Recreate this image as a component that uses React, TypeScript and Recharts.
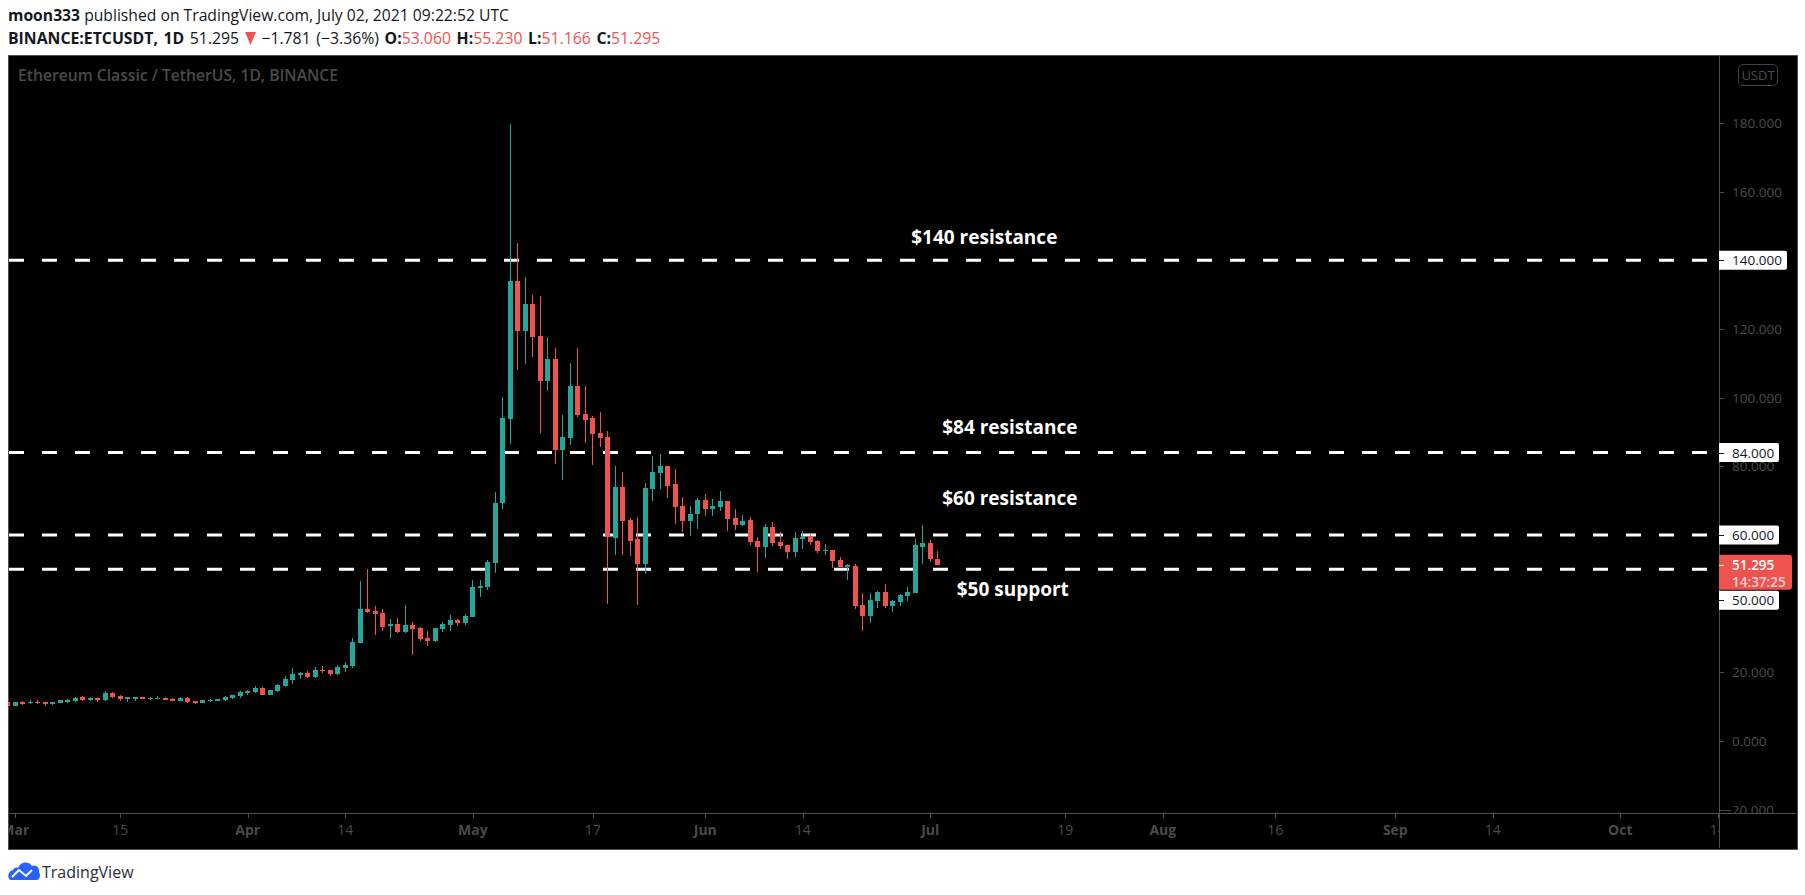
import { ComposedChart, Bar, XAxis, YAxis, ReferenceLine, ReferenceDot } from "recharts";

// daily candles, first entry is the day before Mar 1 (cut off by the pane edge)
const opens = [
  11.36, 10.2, 11.46, 10.97, 11.46, 11.36, 10.87, 11.16, 11.36, 11.65, 12.72, 12.04, 12.52, 12.04, 13.98, 13.11,
  12.23, 12.23, 12.72, 12.33, 12.33, 12.52, 12.23, 11.75, 12.52, 11.55, 11.07, 11.65, 11.65, 11.94, 12.43, 13.11,
  13.98, 14.27, 15.44, 13.4, 14.56, 16.02, 17.77, 19.2, 19.8, 18.64, 20.68, 20.68, 19.5, 21.26, 21.85, 28.55,
  38.45, 37.87, 37.28, 33.5, 34.08, 31.75, 33.79, 32.91, 30.0, 29.13, 32.62, 33.79, 35.25, 34.37, 36.12, 44.56,
  44.85, 51.84, 69.3, 93.8, 134.0, 119.4, 127.3, 117.95, 104.86, 111.27, 84.76, 88.25, 103.4, 95.24, 94.08, 89.7,
  88.54, 59.12, 73.98, 64.36, 58.83, 51.55, 73.4, 78.06, 80.1, 74.85, 68.44, 64.07, 66.1, 70.2, 67.57, 68.15,
  69.9, 64.95, 62.9, 64.36, 58.25, 56.5, 62.33, 57.96, 57.1, 55.05, 58.84, 59.42, 58.25, 55.34, 55.63, 52.72,
  50.68, 50.97, 39.6, 36.4, 40.77, 43.4, 39.3, 40.48, 42.2, 43.1, 56.5, 57.67, 53.06,
];
const highs = [
  11.4, 11.4, 11.65, 11.94, 11.94, 11.4, 11.36, 11.9, 12.23, 12.82, 13.11, 12.82, 12.82, 14.56, 14.27, 13.4,
  12.82, 12.82, 12.9, 12.9, 13.1, 12.82, 12.43, 12.82, 12.82, 11.65, 11.9, 12.23, 12.3, 13.11, 13.4, 14.56,
  14.86, 16.02, 15.73, 14.9, 16.6, 18.93, 21.26, 20.0, 20.39, 21.56, 21.85, 20.7, 22.14, 23.0, 30.0, 46.6,
  50.1, 39.3, 38.45, 35.54, 35.83, 39.6, 34.66, 33.2, 32.04, 33.0, 34.66, 36.7, 35.54, 37.0, 46.9, 46.9,
  52.7, 72.5, 100.2, 179.7, 145.0, 135.1, 129.9, 129.6, 117.7, 114.5, 94.95, 110.1, 114.5, 103.4, 94.66, 95.8,
  90.3, 80.1, 78.35, 64.95, 65.24, 75.14, 83.0, 83.6, 80.2, 79.2, 71.07, 68.44, 70.8, 71.94, 70.48, 72.8,
  69.95, 67.57, 65.8, 65.24, 59.4, 63.2, 63.8, 60.87, 57.2, 60.87, 61.16, 60.3, 58.5, 57.4, 55.7, 53.6,
  51.55, 51.55, 43.1, 43.1, 43.7, 45.7, 41.07, 42.8, 44.85, 58.83, 62.9, 58.54, 55.23,
];
const lows = [
  10.2, 10.2, 10.49, 10.78, 10.78, 10.3, 10.58, 11.1, 11.16, 11.36, 11.75, 11.65, 11.36, 11.75, 12.52, 11.65,
  11.36, 11.65, 12.13, 11.94, 12.1, 11.94, 11.65, 11.65, 11.07, 10.78, 11.0, 11.36, 11.6, 11.65, 12.13, 12.52,
  13.4, 13.98, 13.3, 13.3, 14.27, 15.73, 16.6, 18.06, 18.35, 18.35, 19.8, 18.93, 19.2, 20.1, 21.26, 28.5,
  37.3, 30.9, 32.0, 30.0, 31.46, 31.46, 25.05, 29.13, 27.67, 28.84, 31.75, 32.04, 33.5, 33.79, 36.1, 41.9,
  44.0, 48.9, 67.57, 86.5, 108.06, 109.8, 111.85, 89.7, 101.94, 80.7, 76.0, 86.2, 94.4, 86.8, 80.4, 85.6,
  39.9, 54.2, 54.2, 53.9, 39.6, 48.64, 69.9, 73.4, 70.8, 63.2, 60.87, 59.7, 61.74, 65.5, 65.5, 67.0,
  61.16, 61.45, 62.6, 57.08, 49.2, 53.3, 56.8, 55.9, 53.0, 53.6, 55.9, 57.1, 54.76, 54.17, 50.39, 50.6,
  46.9, 38.44, 32.0, 34.36, 38.7, 38.7, 37.57, 39.3, 40.77, 43.0, 51.55, 52.1, 51.166,
];
const closes = [
  10.2, 11.36, 10.87, 11.36, 11.16, 10.78, 11.26, 11.84, 11.94, 12.52, 12.04, 12.52, 11.84, 13.88, 12.82, 12.23,
  12.72, 12.72, 12.23, 12.52, 12.52, 12.04, 11.75, 12.52, 11.36, 11.07, 11.84, 11.94, 12.23, 12.82, 13.3, 14.27,
  14.56, 15.44, 13.4, 14.86, 16.31, 18.06, 19.5, 19.9, 18.64, 20.68, 20.39, 19.5, 21.56, 22.14, 28.84, 38.45,
  37.58, 37.0, 33.2, 34.08, 31.75, 33.79, 32.62, 29.71, 29.13, 32.91, 34.08, 35.25, 34.37, 36.41, 44.85, 45.14,
  52.13, 69.3, 94.08, 134.0, 119.4, 127.3, 117.7, 104.86, 111.27, 84.76, 88.54, 103.4, 94.95, 93.5, 89.4, 88.25,
  59.4, 73.98, 64.07, 58.25, 51.55, 73.69, 78.35, 80.1, 74.27, 68.15, 64.07, 66.1, 70.2, 67.57, 68.44, 69.9,
  64.66, 62.9, 64.07, 57.96, 56.5, 62.33, 57.67, 56.8, 55.05, 59.13, 59.42, 57.96, 55.34, 55.63, 52.43, 50.68,
  51.26, 39.3, 36.4, 41.07, 43.4, 39.3, 40.77, 42.5, 43.4, 57.1, 57.67, 53.0, 51.295,
];

const dayTicks = [0, 14, 31, 44, 61, 77, 92, 105, 122, 140, 153, 168, 184, 197, 214, 227];
const dayLabels = ["Mar", "15", "Apr", "14", "May", "17", "Jun", "14", "Jul", "19", "Aug", "16", "Sep", "14", "Oct", "14"];

const priceTicks = [-20, 0, 20, 80, 100, 120, 160, 180, 140, 84, 60, 50, 51.295];
const levels = [140, 84, 60, 50];
const annotations = [
  { day: 129.2, price: 146.7, text: "$140 resistance" },
  { day: 132.6, price: 91.4, text: "$84 resistance" },
  { day: 132.6, price: 70.6, text: "$60 resistance" },
  { day: 133, price: 44.2, text: "$50 support" },
];

const table = opens.map((open, i) => ({
  day: i - 1,
  open,
  high: highs[i],
  low: lows[i],
  close: closes[i],
  range: [lows[i], highs[i]],
}));

const UP = "#26a69a";
const DOWN = "#ef5350";
const DIM = "#4a4a4a";
const FRAME = "#505050";
const FONT = "'Open Sans', sans-serif";
const PLOT_RIGHT = 1719;

function Candle(props: any) {
  const { x, y, height, payload } = props;
  const k = height / (payload.high - payload.low);
  const top = y + (payload.high - Math.max(payload.open, payload.close)) * k;
  const bodyH = Math.max(Math.abs(payload.open - payload.close) * k, 1);
  const left = Math.round(x);
  const color = payload.close >= payload.open ? UP : DOWN;
  return (
    <g shapeRendering="crispEdges">
      <rect x={left + 2} y={y} width={1} height={height} fill={color} />
      <rect x={left} y={top} width={5} height={bodyH} fill={color} />
    </g>
  );
}

function DayTick(props: any) {
  const { x, payload } = props;
  const label = dayLabels[dayTicks.indexOf(payload.value)];
  const isMonth = label.length > 2;
  return (
    <g clipPath="url(#time-clip)">
      <rect x={Math.round(x)} y={813} width={1} height={5} fill={FRAME} />
      <text x={x} y={835} textAnchor="middle" fill={DIM} fontSize={14} fontFamily={FONT} fontWeight={isMonth ? 700 : 400}>
        {label}
      </text>
    </g>
  );
}

function PriceTick(props: any) {
  const { y, payload } = props;
  const value = payload.value as number;
  const textX = PLOT_RIGHT + 13;
  if (value === 51.295) {
    return (
      <g>
        <path d={`M${PLOT_RIGHT} ${y - 10}H1789a3 3 0 0 1 3 3V${y + 22}a3 3 0 0 1 -3 3H${PLOT_RIGHT}Z`} fill={DOWN} />
        <rect x={PLOT_RIGHT} y={y} width={5} height={1} fill="#fff" />
        <text x={textX} y={y + 5} fill="#fff" fontSize={13.5} fontWeight={600} fontFamily={FONT}>51.295</text>
        <text x={textX} y={y + 22} fill="#fbd0ce" fontSize={13.5} fontWeight={600} fontFamily={FONT}>14:37:25</text>
      </g>
    );
  }
  if (levels.includes(value)) {
    // the 50 label gets pushed down by the current price label
    const py = value === 50 ? y + 31 : y;
    const right = value === 140 ? 1787 : 1779;
    return (
      <g>
        <path d={`M${PLOT_RIGHT} ${py - 9.5}H${right - 2}a2 2 0 0 1 2 2V${py + 7.5}a2 2 0 0 1 -2 2H${PLOT_RIGHT}Z`} fill="#fff" />
        <rect x={PLOT_RIGHT} y={Math.round(py)} width={5} height={1} fill="#131722" />
        <text x={textX} y={py + 5} fill="#131722" fontSize={13.5} fontFamily={FONT}>{value.toFixed(3)}</text>
      </g>
    );
  }
  const label = value < 0 ? `\u2212${Math.abs(value).toFixed(3)}` : value.toFixed(3);
  return (
    <g clipPath="url(#price-clip)">
      <rect x={PLOT_RIGHT} y={Math.round(y)} width={5} height={1} fill={FRAME} />
      <text x={value < 0 ? textX - 8 : textX} y={y + 5} fill={DIM} fontSize={13.5} fontFamily={FONT}>{label}</text>
    </g>
  );
}

const red = { color: DOWN };

export default function App() {
  return (
    <div style={{ position: "absolute", left: 0, top: 0, width: 1805, height: 895, background: "#fff", overflow: "hidden", fontFamily: FONT, color: "#131722" }}>
      <div style={{ position: "absolute", left: 8, top: 5, fontSize: 15.7, lineHeight: "20px", whiteSpace: "nowrap" }}>
        <b>moon333</b> published on TradingView.com, July 02, 2021 09:22:52 UTC
      </div>
      <div style={{ position: "absolute", left: 8, top: 28, fontSize: 15.8, lineHeight: "20px", whiteSpace: "nowrap", wordSpacing: 1.5 }}>
        <b>BINANCE:ETCUSDT, 1D</b> 51.295{" "}
        <svg width={11} height={13} viewBox="0 0 11 13" style={{ verticalAlign: "-1px" }}>
          <path d="M0 0H11L5.5 13Z" fill={DOWN} />
        </svg>{" "}
        −1.781 (−3.36%) <b>O:</b><span style={red}>53.060</span> <b>H:</b><span style={red}>55.230</span> <b>L:</b><span style={red}>51.166</span> <b>C:</b><span style={red}>51.295</span>
      </div>

      <div style={{ position: "absolute", left: 8, top: 55, width: 1788, height: 793, background: "#000", border: `1px solid ${FRAME}` }} />
      <div style={{ position: "absolute", left: PLOT_RIGHT, top: 56, width: 1, height: 792, background: FRAME }} />
      <div style={{ position: "absolute", left: 9, top: 813, width: 1787, height: 1, background: FRAME }} />

      <div style={{ position: "absolute", left: 18, top: 65, fontSize: 15.7, lineHeight: "20px", fontWeight: 600, color: DIM, whiteSpace: "nowrap" }}>
        Ethereum Classic / TetherUS, 1D, BINANCE
      </div>
      <div style={{ position: "absolute", left: 1738, top: 64, width: 38, height: 20, border: "1px solid #3a3f4a", borderRadius: 5, color: DIM, fontSize: 13, lineHeight: "20px", textAlign: "center" }}>
        USDT
      </div>

      <div style={{ position: "absolute", left: 0, top: 0 }}>
        <ComposedChart
          width={1805}
          height={895}
          data={table}
          margin={{ left: 8, right: 9, top: 56, bottom: 47 }}
        >
          <defs>
            <clipPath id="time-clip">
              <rect x={9} y={813} width={PLOT_RIGHT - 9} height={35} />
            </clipPath>
            <clipPath id="price-clip">
              <rect x={PLOT_RIGHT} y={56} width={77} height={757} />
            </clipPath>
          </defs>
          <XAxis
            dataKey="day"
            type="number"
            domain={[-0.973, 227.16]}
            allowDataOverflow
            ticks={dayTicks}
            interval={0}
            height={35}
            axisLine={false}
            tickLine={false}
            tick={<DayTick />}
          />
          <YAxis
            orientation="right"
            type="number"
            domain={[-20.97, 199.5]}
            allowDataOverflow
            ticks={priceTicks}
            interval={0}
            width={77}
            axisLine={false}
            tickLine={false}
            tick={<PriceTick />}
          />
          {levels.map((level) => (
            <ReferenceLine key={level} y={level} stroke="#fff" strokeWidth={3} strokeDasharray="15 18" strokeDashoffset={-12} zIndex={100} />
          ))}
          <Bar dataKey="range" barSize={5} shape={<Candle />} isAnimationActive={false} zIndex={300} />
          {annotations.map((a) => (
            <ReferenceDot
              key={a.text}
              x={a.day}
              y={a.price}
              r={0}
              stroke="none"
              label={{ value: a.text, position: "center", fill: "#fff", fontSize: 19, fontWeight: 700, fontFamily: FONT }}
            />
          ))}
        </ComposedChart>
      </div>

      <svg style={{ position: "absolute", left: 8, top: 861 }} width={33} height={20} viewBox="0 0 33 20">
        <path d="M2 19C-1 16 0 10 5 9C6 7 8 6 10 7C12 1 20 -1 24 5C28 3 32 7 31 11C33 14 32 18 29 19Z" fill="#2962ff" />
        <path d="M4 16L11 9L18 15L24 9" fill="none" stroke="#fff" strokeWidth={2} />
      </svg>
      <div style={{ position: "absolute", left: 42, top: 860, fontSize: 16, lineHeight: "24px", color: "#2a2e39", whiteSpace: "nowrap" }}>
        TradingView
      </div>
    </div>
  );
}
